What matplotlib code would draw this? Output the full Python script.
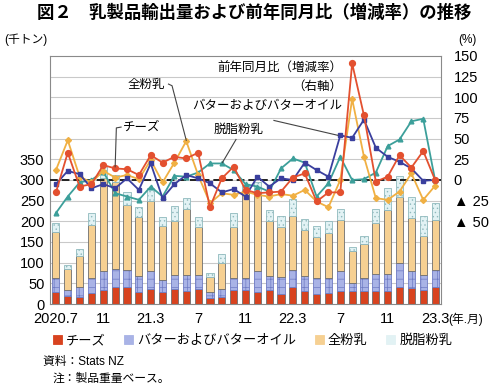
import matplotlib
matplotlib.use('Agg')
import matplotlib.pyplot as plt
from matplotlib.patches import Patch

plt.rcParams['font.family'] = ['Liberation Sans', 'Noto Sans CJK JP', 'DejaVu Sans']
plt.rcParams['hatch.linewidth'] = 0.5

# months Jul 2020 .. Mar 2023
months = list(range(33))
tick_pos = [0, 4, 8, 12, 16, 20, 24, 28, 32]
tick_labels = ['2020.7', '11', '21.3', '7', '11', '22.3', '7', '11', '23.3']

# export volume (thousand tonnes)
cheese = [28, 20, 18, 26, 34, 40, 40, 30, 37, 28, 36, 32, 36, 15, 18, 33, 33,
          30, 33, 25, 40, 32, 24, 26, 32, 32, 32, 32, 32, 42, 38, 34, 40]
butter = [35, 13, 24, 37, 45, 45, 43, 37, 44, 29, 33, 37, 33, 13, 18, 30, 30,
          49, 35, 41, 42, 35, 39, 38, 49, 20, 31, 41, 41, 57, 43, 37, 43]
wmp = [111, 52, 74, 127, 226, 210, 156, 144, 169, 132, 132, 160, 118, 37, 63, 124, 212,
       191, 132, 121, 132, 111, 100, 108, 121, 76, 81, 122, 154, 159, 128, 93, 120]
smp = [21, 10, 17, 30, 30, 17, 31, 24, 30, 22, 35, 28, 24, 10, 21, 32, 13,
       25, 28, 26, 41, 27, 26, 29, 29, 9, 20, 36, 53, 51, 50, 49, 41]

# year-on-year change (%)
cheese_yoy = [-15, 33, -8, -5, 18, 14, 13, 6, 30, 21, 28, 26, 33, -33, 2, 16, -12,
              -16, -15, -14, 3, 8, -26, -15, -15, 141, 78, -2, 4, 30, 15, 35, 0]
butter_yoy = [-5, 11, 7, -10, -5, -10, 2, -12, 20, -22, -5, 6, 2, -4, -15, -11, -20,
              4, -8, 2, 0, 21, 12, 4, 54, 51, 73, 39, 28, 22, 14, -1, 0]
wmp_yoy = [12, 48, 4, -3, 11, 3, 6, 1, 24, -3, 21, 47, 6, -28, -16, -18, -14,
           -18, -20, -17, -19, -12, -26, -33, 0, 98, 28, -22, -24, -14, 8, -24, -7]
smp_yoy = [-40, -20, -3, 0, 10, -16, -20, -24, -8, -20, 5, 4, 9, 20, 20, 12, -5,
           -8, -14, 14, 26, 21, -20, -4, 28, 0, 1, 9, 41, 49, 71, 74, 0]

fig = plt.figure(figsize=(5, 3.9), dpi=100)
ax = fig.add_axes([0.1, 0.2205, 0.782, 0.636])

edge = '#6e6e6e'
for y in range(50, 600, 50):
    ax.axhline(y, color='#c9c9c9', lw=0.8, zorder=0)

bottom = [0] * len(months)
styles = [
    ('チーズ', cheese, dict(color='#d8431f', edgecolor=edge)),
    ('バターおよびバターオイル', butter, dict(color='#a9b3e6', edgecolor='#6f7bc4', hatch='++')),
    ('全粉乳', wmp, dict(color='#f6d092', edgecolor=edge)),
    ('脱脂粉乳', smp, dict(color='#e2f2f4', edgecolor='#8fb9bd', hatch='....')),
]
handles = []
for name, vals, st in styles:
    ax.bar(months, vals, 0.6, bottom=bottom, linewidth=0.6, zorder=2, **st)
    bottom = [b + v for b, v in zip(bottom, vals)]
    handles.append(Patch(label=name, linewidth=0.6, **st))

ax.set_xlim(-0.5, 32.5)
ax.set_ylim(0, 600)
ax.set_yticks(range(0, 351, 50))
ax.set_xticks(tick_pos)
ax.set_xticklabels(tick_labels)
ax.tick_params(axis='both', length=0, labelsize=10.5)
ax.tick_params(axis='x', pad=6)
ax.tick_params(axis='y', pad=4)
for sp in ax.spines.values():
    sp.set_color('#8a8a8a')
    sp.set_linewidth(0.8)

ax2 = ax.twinx()
ax2.set_ylim(-150, 150)
ax2.axhline(0, color='#222222', lw=1.4, ls=(0, (4, 2)), zorder=1)
ax2.plot(months, smp_yoy, color='#3c9f9a', marker='^', ms=3.4, lw=1.3)
ax2.plot(months, wmp_yoy, color='#f0b043', marker='D', ms=3.0, lw=1.3)
ax2.plot(months, butter_yoy, color='#3a3f9e', marker='s', ms=3.3, lw=1.3)
ax2.plot(months, cheese_yoy, color='#e3502f', marker='o', ms=4.2, lw=1.3)
ax2.set_yticks(range(-50, 151, 25))
ax2.set_yticklabels(['▲ 50', '▲ 25'] + [str(v) for v in range(0, 151, 25)])
ax2.tick_params(axis='y', length=0, labelsize=10.5, pad=9)
for sp in ax2.spines.values():
    sp.set_visible(False)

# annotations
lc = '#444444'
ax2.text(24.2, 134, '前年同月比（増減率）', ha='right', va='center', fontsize=9)
ax2.text(24.2, 113, '（右軸）', ha='right', va='center', fontsize=9)
ax2.text(7.6, 115, '全粉乳', ha='center', va='center', fontsize=9)
ax2.plot([9.5, 9.8, 11], [116, 114, 48], color=lc, lw=0.8)
ax2.text(7.2, 63, 'チーズ', ha='center', va='center', fontsize=9)
ax2.plot([5.5, 5.1, 5.0], [64, 63, 16], color=lc, lw=0.8)
ax2.text(24.2, 89, 'バターおよびバターオイル', ha='right', va='center', fontsize=9)
ax2.plot([18.4, 23.8], [72, 54], color=lc, lw=0.8)
ax2.text(15.4, 61, '脱脂粉乳', ha='center', va='center', fontsize=9)
ax2.plot([15.2, 14.05], [49, 21], color=lc, lw=0.8)

fig.text(0.508, 1 - 12 / 390, '図２　乳製品輸出量および前年同月比（増減率）の推移',
         ha='center', va='center', fontsize=12.5, fontweight='bold')
fig.text(4 / 500, 1 - 40 / 390, '(千トン)', ha='left', va='center', fontsize=8.5)
fig.text(458 / 500, 1 - 40 / 390, '(%)', ha='left', va='center', fontsize=8.5)
fig.text(448 / 500, 1 - 319 / 390, '(年.月)', ha='left', va='center', fontsize=8.5)
fig.text(43 / 500, 1 - 362 / 390, '資料：Stats NZ', ha='left', va='center', fontsize=8.5)
fig.text(53 / 500, 1 - 379 / 390, '注：製品重量ベース。', ha='left', va='center', fontsize=8.5)

fig.legend(handles=handles, loc='center', bbox_to_anchor=(0.505, 1 - 341 / 390), ncol=4,
           frameon=False, fontsize=9.5, handlelength=0.7, handleheight=0.7,
           handletextpad=0.3, columnspacing=1.4, borderaxespad=0)

fig.savefig('out.png', dpi=100)
